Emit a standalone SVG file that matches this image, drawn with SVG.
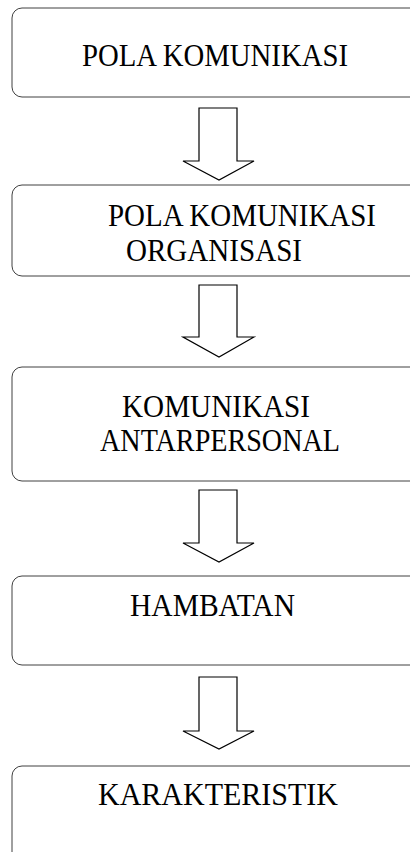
<svg xmlns="http://www.w3.org/2000/svg" width="410" height="852" viewBox="0 0 410 852">
<style>
.box{fill:#fff;stroke:#404040;stroke-width:1}
.arr{fill:#fff;stroke:#000;stroke-width:1.2;stroke-linejoin:miter}
text{font-family:"Liberation Serif","Times New Roman",serif;font-size:31px;fill:#000}
</style>
<rect width="410" height="852" fill="#fff"/>
<g id="n1"><rect class="box" x="12" y="8" width="420" height="89" rx="10"/><text x="82" y="66" textLength="266" lengthAdjust="spacingAndGlyphs">POLA KOMUNIKASI</text></g>
<g id="n2"><rect class="box" x="12" y="185" width="420" height="91" rx="10"/><text x="108" y="226" textLength="268" lengthAdjust="spacingAndGlyphs">POLA KOMUNIKASI</text><text x="126" y="261" textLength="176" lengthAdjust="spacingAndGlyphs">ORGANISASI</text></g>
<g id="n3"><rect class="box" x="12" y="367" width="420" height="114" rx="10"/><text x="122" y="417" textLength="188" lengthAdjust="spacingAndGlyphs">KOMUNIKASI</text><text x="100" y="451" textLength="240" lengthAdjust="spacingAndGlyphs">ANTARPERSONAL</text></g>
<g id="n4"><rect class="box" x="12" y="576" width="420" height="89" rx="10"/><text x="130" y="616" textLength="165" lengthAdjust="spacingAndGlyphs">HAMBATAN</text></g>
<g id="n5"><rect class="box" x="12" y="766" width="420" height="100" rx="10"/><text x="98" y="805" textLength="240" lengthAdjust="spacingAndGlyphs">KARAKTERISTIK</text></g>
<g id="connectors">
<polygon class="arr" points="199,108 237,108 237,161 254,161 219,180 183,161 199,161"/>
<polygon class="arr" points="199,285 237,285 237,337 254,337 219,357 183,337 199,337"/>
<polygon class="arr" points="199,490 237,490 237,543 254,543 219,562 183,543 199,543"/>
<polygon class="arr" points="199,677 237,677 237,731 254,731 219,749 183,731 199,731"/>
</g>
</svg>
